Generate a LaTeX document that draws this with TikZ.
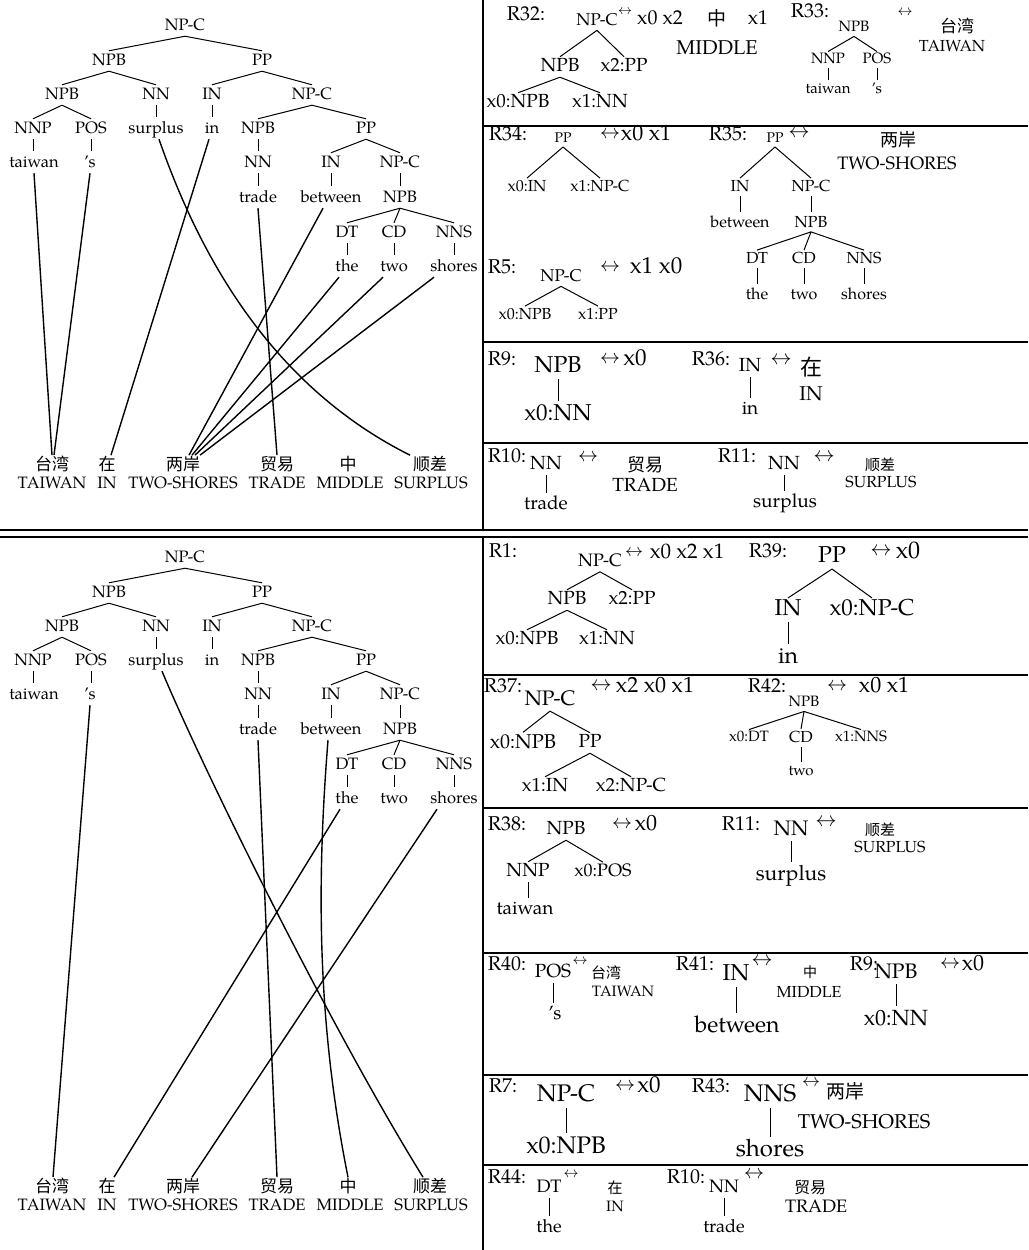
\documentclass[tikz,border=0pt]{standalone}
\usepackage{graphicx}
\usepackage{fontspec}
\setmainfont{texgyrepagella-regular.otf}
\newfontfamily\cjk{Noto Sans CJK SC}
\newcommand\lrarrow[1]{\scalebox{#1}{$\leftrightarrow$}}
\tikzset{
 fs/.code={\pgfmathsetmacro\fsH{0.7*#1}\pgfmathsetmacro\fsD{0.2*#1}%
   \edef\fsTmp{\noexpand\tikzset{font=\noexpand\fontsize{#1}{#1}\noexpand\selectfont, text height=\fsH pt, text depth=\fsD pt, inner xsep=1pt, inner ysep=1.5pt}}\fsTmp},
 fz/.code={\pgfmathsetmacro\fsH{0.8*#1}\pgfmathsetmacro\fsD{0.1*#1}%
   \edef\fsTmp{\noexpand\tikzset{font=\noexpand\cjk\noexpand\fontsize{#1}{#1}\noexpand\selectfont, text height=\fsH pt, text depth=\fsD pt, inner xsep=1pt, inner ysep=2pt}}\fsTmp},
 arr/.style={font=\fontsize{10}{10}\selectfont, inner sep=0pt},
 tn/.style={fs=16.5, inner ysep=2.6pt},
 te/.style={line width=1pt},
 tu/.style={line width=1pt, shorten >=2pt},
 al/.style={line width=1.4pt},
 frame/.style={line width=1.8pt},
 lbl/.style={fs=20},
}
\newcommand\ubar[2]{\draw[tu] (#1.south) -- (#1.south |- #2.north);}
\newcommand\leftTree[1]{%
 \node[tn] (#1a) at (185,26) {NP-C};
 \node[tn] (#1b) at (109,61) {NPB};
 \node[tn] (#1c) at (262,61) {PP};
 \node[tn] (#1d) at (62,95) {NPB};
 \node[tn] (#1e) at (156,95) {NN};
 \node[tn] (#1f) at (212,95) {IN};
 \node[tn] (#1g) at (312,95) {NP-C};
 \node[tn] (#1h) at (33,129) {NNP};
 \node[tn] (#1i) at (91,129) {POS};
 \node[tn] (#1surplus) at (156,129) {surplus};
 \node[tn] (#1in) at (212,129) {in};
 \node[tn] (#1j) at (258,129) {NPB};
 \node[tn] (#1k) at (366,129) {PP};
 \node[tn] (#1taiwan) at (34,163) {taiwan};
 \node[tn] (#1s) at (90,163) {’s};
 \node[tn] (#1l) at (258,163) {NN};
 \node[tn] (#1m) at (331,163) {IN};
 \node[tn] (#1n) at (400,163) {NP-C};
 \node[tn] (#1trade) at (258,198) {trade};
 \node[tn] (#1between) at (331,198) {between};
 \node[tn] (#1o) at (400,198) {NPB};
 \node[tn] (#1p) at (347,233) {DT};
 \node[tn] (#1q) at (394,233) {CD};
 \node[tn] (#1r) at (454,233) {NNS};
 \node[tn] (#1the) at (347,267) {the};
 \node[tn] (#1two) at (394,267) {two};
 \node[tn] (#1shores) at (454,267) {shores};
 \draw[te] (#1a.south) -- (#1b.north);
 \draw[te] (#1a.south) -- (#1c.north);
 \draw[te] (#1b.south) -- (#1d.north);
 \draw[te] (#1b.south) -- (#1e.north);
 \draw[te] (#1c.south) -- (#1f.north);
 \draw[te] (#1c.south) -- (#1g.north);
 \draw[te] (#1d.south) -- (#1h.north);
 \draw[te] (#1d.south) -- (#1i.north);
 \ubar{#1e}{#1surplus}
 \ubar{#1f}{#1in}
 \draw[te] (#1g.south) -- (#1j.north);
 \draw[te] (#1g.south) -- (#1k.north);
 \ubar{#1h}{#1taiwan}
 \ubar{#1i}{#1s}
 \ubar{#1j}{#1l}
 \draw[te] (#1k.south) -- (#1m.north);
 \draw[te] (#1k.south) -- (#1n.north);
 \ubar{#1l}{#1trade}
 \ubar{#1m}{#1between}
 \ubar{#1n}{#1o}
 \draw[te] (#1o.south) -- (#1p.north);
 \draw[te] (#1o.south) -- (#1q.north);
 \draw[te] (#1o.south) -- (#1r.north);
 \ubar{#1p}{#1the}
 \ubar{#1q}{#1two}
 \ubar{#1r}{#1shores}
}
\newcommand\leftWords[2]{%
 \node[fz=17] (#1z1) at (52,#2) {台湾};
 \node[fz=17] (#1z2) at (107,#2) {在};
 \node[fz=17] (#1z3) at (183,#2) {两岸};
 \node[fz=17] (#1z4) at (277,#2) {贸易};
 \node[fz=17] (#1z5) at (348,#2) {中};
 \node[fz=17] (#1z6) at (430,#2) {顺差};
 \begin{scope}[yshift=-19pt]
 \node[fs=16.5] (#1e1) at (52,#2) {TAIWAN};
 \node[fs=16.5] (#1e2) at (107,#2) {IN};
 \node[fs=16.5] (#1e3) at (183,#2) {TWO-SHORES};
 \node[fs=16.5] (#1e4) at (277,#2) {TRADE};
 \node[fs=16.5] (#1e5) at (350,#2) {MIDDLE};
 \node[fs=16.5] (#1e6) at (431,#2) {SURPLUS};
 \end{scope}
}
\begin{document}
\begin{tikzpicture}[x=1pt,y=-1pt]
\fill[white] (0,0) rectangle (1028,1250);
\useasboundingbox (0,0) rectangle (1028,1250);
% frame
\draw[frame] (483,0) -- (483,530);
\draw[frame] (483,537) -- (483,1250);
\draw[frame] (0,530) -- (1028,530);
\draw[frame] (0,537) -- (1028,537);
\foreach \yy in {126,342,443,675,808,953,1075,1165}
  \draw[frame] (483,\yy) -- (1028,\yy);
% left trees
\leftTree{A}
\begin{scope}[yshift=-532pt]
\leftTree{B}
\end{scope}
\leftWords{A}{465}
\leftWords{B}{1187}
% top alignments
\draw[al] (Ataiwan.south) -- (Az1.north);
\draw[al] (As.south) -- ([xshift=2pt]Az1.north);
\draw[al] ([xshift=-3pt]Ain.south) -- ([xshift=4pt]Az2.north);
\draw[al] ([xshift=3pt]Asurplus.south) .. controls +(40,115) and +(-140,-70) .. ([xshift=-20pt]Az6.north);
\draw[al] (Atrade.south) -- (Az4.north);
\draw[al] ([xshift=-8pt]Abetween.south) -- ([xshift=6pt]Az3.north);
\draw[al] ([xshift=-8pt]Athe.south) -- ([xshift=9pt]Az3.north);
\draw[al] ([xshift=-11pt]Atwo.south) -- ([xshift=12pt]Az3.north);
\draw[al] ([xshift=-20pt]Ashores.south) -- ([xshift=17pt]Az3.north);
% bottom alignments
\draw[al] (Bs.south) -- ([xshift=1pt]Bz1.north);
\draw[al] ([xshift=6pt]Bsurplus.south) .. controls +(42,100) and +(-93,-150) .. ([xshift=-7pt]Bz6.north);
\draw[al] (Btrade.south) -- (Bz4.north);
\draw[al] ([xshift=-3pt]Bbetween.south) .. controls +(-12,150) and +(-30,-150) .. (Bz5.north);
\draw[al] ([xshift=-7pt]Bthe.south) -- ([xshift=7pt]Bz2.north);
\draw[al] ([xshift=-17pt]Bshores.south) -- ([xshift=9pt]Bz3.north);
% ---------- R32
\node[lbl] (r32) at (526,15) {R32:};
\node[fs=17] (r32a) at (597,21) {NP-C};
\node[arr] (r32arr) at (625,12) {\lrarrow{1.4}};
\node[fs=20] (r32t1) at (660,19) {x0 x2};
\node[fz=19] (r32zh) at (717,19) {中};
\node[fs=20] (r32t2) at (758,19) {x1};
\node[fs=20] (r32m) at (717,49) {MIDDLE};
\node[fs=19] (r32b) at (560,67) {NPB};
\node[fs=19] (r32c) at (624,67) {x2:PP};
\node[fs=19] (r32d) at (518,103) {x0:NPB};
\node[fs=19] (r32e) at (600,103) {x1:NN};
\draw[te] (r32a.south) -- (r32b.north);
\draw[te] (r32a.south) -- (r32c.north);
\draw[te] (r32b.south) -- (r32d.north);
\draw[te] (r32b.south) -- (r32e.north);
% R33
\node[lbl] (r33) at (810,12) {R33:};
\node[fs=15] (r33a) at (854,28) {NPB};
\node[arr] (r33arr) at (905,13) {\lrarrow{1.5}};
\node[fz=17] (r33zh) at (957,27) {台湾};
\node[fs=16] (r33en) at (952,47) {TAIWAN};
\node[fs=15] (r33b) at (828,60) {NNP};
\node[fs=15] (r33c) at (877,60) {POS};
\node[fs=15] (r33d) at (828,90) {taiwan};
\node[fs=15] (r33e) at (877,90) {’s};
\draw[te] (r33a.south) -- (r33b.north);
\draw[te] (r33a.south) -- (r33c.north);
\ubar{r33b}{r33d}
\ubar{r33c}{r33e}
% R34
\node[lbl] (r34) at (508,135) {R34:};
\node[fs=14] (r34a) at (563,139) {PP};
\node[arr] (r34arr) at (610,135) {\lrarrow{2.0}};
\node[fs=22] (r34t) at (646,135) {x0 x1};
\node[fs=16] (r34b) at (527,187) {x0:IN};
\node[fs=16] (r34c) at (600,187) {x1:NP-C};
\draw[te] (r34a.south) -- (r34b.north);
\draw[te] (r34a.south) -- (r34c.north);
% R35
\node[lbl] (r35) at (728,135) {R35:};
\node[fs=14] (r35a) at (775,139) {PP};
\node[arr] (r35arr) at (799,134) {\lrarrow{2.1}};
\node[fz=18] (r35zh) at (898,140) {两岸};
\node[fs=18] (r35en) at (897,165) {TWO-SHORES};
\node[fs=16] (r35b) at (740,187) {IN};
\node[fs=16] (r35c) at (811,187) {NP-C};
\node[fs=16] (r35d) at (740,223) {between};
\node[fs=16] (r35e) at (811,223) {NPB};
\node[fs=16] (r35f) at (757,259) {DT};
\node[fs=16] (r35g) at (804,259) {CD};
\node[fs=16] (r35h) at (864,259) {NNS};
\node[fs=16] (r35i) at (757,295) {the};
\node[fs=16] (r35j) at (804,295) {two};
\node[fs=16] (r35k) at (864,295) {shores};
\draw[te] (r35a.south) -- (r35b.north);
\draw[te] (r35a.south) -- (r35c.north);
\ubar{r35b}{r35d}
\ubar{r35c}{r35e}
\draw[te] (r35e.south) -- (r35f.north);
\draw[te] (r35e.south) -- (r35g.north);
\draw[te] (r35e.south) -- (r35h.north);
\ubar{r35f}{r35i}
\ubar{r35g}{r35j}
\ubar{r35h}{r35k}
% R5
\node[lbl] (r5) at (502,268) {R5:};
\node[fs=17] (r5a) at (561,277) {NP-C};
\node[arr] (r5arr) at (610,268) {\lrarrow{2.0}};
\node[fs=23] (r5t) at (656,268) {x1 x0};
\node[fs=16] (r5b) at (525,315) {x0:NPB};
\node[fs=16] (r5c) at (598,315) {x1:PP};
\draw[te] (r5a.south) -- (r5b.north);
\draw[te] (r5a.south) -- (r5c.north);
% R9
\node[lbl] (r9) at (502,360) {R9:};
\node[fs=23] (r9a) at (558,367) {NPB};
\node[arr] (r9arr) at (610,360) {\lrarrow{2.0}};
\node[fs=23] (r9t) at (635,360) {x0};
\node[fs=23] (r9b) at (558,415) {x0:NN};
\ubar{r9a}{r9b}
% R36
\node[lbl] (r36) at (711,360) {R36:};
\node[fs=19] (r36a) at (750,367) {IN};
\node[arr] (r36arr) at (781,361) {\lrarrow{2.1}};
\node[fz=22] (r36zh) at (811,368) {在};
\node[fs=20] (r36en) at (811,395) {IN};
\node[fs=19] (r36b) at (750,410) {in};
\ubar{r36a}{r36b}
% R10
\node[lbl] (r10) at (507,457) {R10:};
\node[fs=19] (r10a) at (546,465) {NN};
\node[arr] (r10arr) at (588,458) {\lrarrow{2.0}};
\node[fz=18] (r10zh) at (645,465) {贸易};
\node[fs=19] (r10en) at (645,487) {TRADE};
\node[fs=19] (r10b) at (546,505) {trade};
\ubar{r10a}{r10b}
% R11
\node[lbl] (r11) at (737,457) {R11:};
\node[fs=19] (r11a) at (784,465) {NN};
\node[arr] (r11arr) at (824,458) {\lrarrow{2.1}};
\node[fz=15] (r11zh) at (880,465) {顺差};
\node[fs=16] (r11en) at (881,483) {SURPLUS};
\node[fs=19] (r11b) at (785,503) {surplus};
\ubar{r11a}{r11b}
% ---------- R1
\node[lbl] (r1) at (503,552) {R1:};
\node[fs=18] (r1a) at (600,562) {NP-C};
\node[arr] (r1arr) at (634,553) {\lrarrow{1.8}};
\node[fs=21] (r1t) at (687,553) {x0 x2 x1};
\node[fs=19] (r1b) at (567,600) {NPB};
\node[fs=19] (r1c) at (632,600) {x2:PP};
\node[fs=19] (r1d) at (527,640) {x0:NPB};
\node[fs=19] (r1e) at (607,640) {x1:NN};
\draw[te] (r1a.south) -- (r1b.north);
\draw[te] (r1a.south) -- (r1c.north);
\draw[te] (r1b.south) -- (r1d.north);
\draw[te] (r1b.south) -- (r1e.north);
% R39
\node[lbl] (r39) at (768,552) {R39:};
\node[fs=23] (r39a) at (832,557) {PP};
\node[arr] (r39arr) at (881,552) {\lrarrow{2.1}};
\node[fs=24] (r39t) at (908,552) {x0};
\node[fs=23] (r39b) at (788,610) {IN};
\node[fs=23] (r39c) at (872,610) {x0:NP-C};
\node[fs=23] (r39d) at (788,658) {in};
\draw[te] (r39a.south) -- (r39b.north);
\draw[te] (r39a.south) -- (r39c.north);
\ubar{r39b}{r39d}
% R37
\node[lbl] (r37) at (503,687) {R37:};
\node[fs=21] (r37a) at (550,700) {NP-C};
\node[arr] (r37arr) at (601,687) {\lrarrow{2.1}};
\node[fs=22] (r37t) at (655,687) {x2 x0 x1};
\node[fs=20] (r37b) at (523,743) {x0:NPB};
\node[fs=19] (r37c) at (590,743) {PP};
\node[fs=19] (r37d) at (545,787) {x1:IN};
\node[fs=19] (r37e) at (631,787) {x2:NP-C};
\draw[te] (r37a.south) -- (r37b.north);
\draw[te] (r37a.south) -- (r37c.north);
\draw[te] (r37c.south) -- (r37d.north);
\draw[te] (r37c.south) -- (r37e.north);
% R42
\node[lbl] (r42) at (767,687) {R42:};
\node[fs=15] (r42a) at (804,703) {NPB};
\node[arr] (r42arr) at (837,687) {\lrarrow{2.0}};
\node[fs=22] (r42t) at (884,687) {x0 x1};
\node[fs=15] (r42b) at (749,738) {x0:DT};
\node[fs=16] (r42c) at (801,738) {CD};
\node[fs=15] (r42d) at (861,738) {x1:NNS};
\node[fs=15] (r42e) at (801,772) {two};
\draw[te] (r42a.south) -- (r42b.north);
\draw[te] (r42a.south) -- (r42c.north);
\draw[te] (r42a.south) -- (r42d.north);
\ubar{r42c}{r42e}
% R38
\node[lbl] (r38) at (507,825) {R38:};
\node[fs=19] (r38a) at (566,830) {NPB};
\node[arr] (r38arr) at (622,825) {\lrarrow{2.0}};
\node[fs=22] (r38t) at (646,825) {x0};
\node[fs=19] (r38b) at (528,872) {NNP};
\node[fs=18] (r38c) at (603,872) {x0:POS};
\node[fs=19] (r38d) at (525,910) {taiwan};
\draw[te] (r38a.south) -- (r38b.north);
\draw[te] (r38a.south) -- (r38c.north);
\ubar{r38b}{r38d}
% R11 (second)
\node[lbl] (r11s) at (741,825) {R11:};
\node[fs=21] (r11sa) at (791,830) {NN};
\node[arr] (r11sarr) at (826,823) {\lrarrow{2.1}};
\node[fz=15] (r11szh) at (880,830) {顺差};
\node[fs=16] (r11sen) at (890,848) {SURPLUS};
\node[fs=21] (r11sb) at (791,875) {surplus};
\ubar{r11sa}{r11sb}
% R40
\node[lbl] (r40) at (507,965) {R40:};
\node[fs=19] (r40a) at (553,973) {POS};
\node[arr] (r40arr) at (580,962) {\lrarrow{1.5}};
\node[fz=15] (r40zh) at (606,973) {台湾};
\node[fs=15] (r40en) at (623,993) {TAIWAN};
\node[fs=19] (r40b) at (555,1015) {’s};
\ubar{r40a}{r40b}
% R41
\node[lbl] (r41) at (695,965) {R41:};
\node[fs=23] (r41a) at (736,975) {IN};
\node[arr] (r41arr) at (762,962) {\lrarrow{2.1}};
\node[fz=14] (r41zh) at (810,973) {中};
\node[fs=16] (r41en) at (809,993) {MIDDLE};
\node[fs=23] (r41b) at (737,1027) {between};
\ubar{r41a}{r41b}
% R9 (second)
\node[lbl] (r9s) at (864,965) {R9:};
\node[fs=21] (r9sa) at (896,973) {NPB};
\node[arr] (r9sarr) at (950,965) {\lrarrow{2.0}};
\node[fs=22] (r9st) at (973,965) {x0};
\node[fs=22] (r9sb) at (896,1020) {x0:NN};
\ubar{r9sa}{r9sb}
% R7
\node[lbl] (r7) at (503,1087) {R7:};
\node[fs=24] (r7a) at (566,1095) {NP-C};
\node[arr] (r7arr) at (625,1087) {\lrarrow{2.0}};
\node[fs=23] (r7t) at (649,1087) {x0};
\node[fs=24] (r7b) at (566,1147) {x0:NPB};
\ubar{r7a}{r7b}
% R43
\node[lbl] (r43) at (711,1087) {R43:};
\node[fs=24] (r43a) at (770,1095) {NNS};
\node[arr] (r43arr) at (811,1083) {\lrarrow{1.8}};
\node[fz=19] (r43zh) at (845,1092) {两岸};
\node[fs=20] (r43en) at (864,1123) {TWO-SHORES};
\node[fs=24, inner ysep=0pt] (r43b) at (770,1150) {shores};
\ubar{r43a}{r43b}
% R44
\node[lbl] (r44) at (507,1178) {R44:};
\node[fs=18] (r44a) at (549,1188) {DT};
\node[arr] (r44arr) at (571,1175) {\lrarrow{1.5}};
\node[fz=15] (r44zh) at (615,1188) {在};
\node[fs=15] (r44en) at (615,1208) {IN};
\node[fs=18] (r44b) at (549,1228) {the};
\ubar{r44a}{r44b}
% R10 (second)
\node[lbl] (r10s) at (686,1178) {R10:};
\node[fs=18] (r10sa) at (724,1188) {NN};
\node[arr] (r10sarr) at (754,1175) {\lrarrow{2.0}};
\node[fz=16] (r10szh) at (810,1188) {贸易};
\node[fs=18] (r10sen) at (816,1208) {TRADE};
\node[fs=18] (r10sb) at (724,1228) {trade};
\ubar{r10sa}{r10sb}
\end{tikzpicture}
\end{document}
